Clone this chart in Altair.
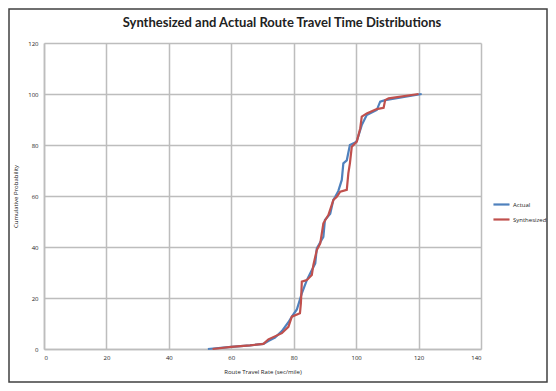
import altair as alt
import pandas as pd

actual_x = [52.5, 60, 66, 70.3, 72, 74, 76.2, 78.3, 79.4, 81, 82.6, 84.2, 85.3, 86.9, 87.4,
            89.5, 90, 91.7, 92.7, 93.3, 94.3, 95.4, 95.9, 97, 98, 99.7, 100.2, 101.8, 103.4,
            106.6, 107.7, 109.3, 121]
actual_y = [0, 0.8, 1.4, 2, 3.2, 4.5, 7, 10.5, 12.7, 15.5, 21.8, 27, 29.7, 33.6, 39.5,
            44, 50.6, 53, 58.5, 59.7, 62, 66.3, 72.8, 74, 80, 81, 81.5, 87.8, 91.8,
            93.7, 97, 97.6, 100]

synth_x = [54, 60, 66, 70.3, 71.9, 76.2, 78.3, 79.4, 82, 82.3, 82.6, 84.2, 85.8, 86.3, 87.4,
           88.5, 89.5, 91.1, 92.7, 93.8, 94.9, 97, 97.5, 98, 98.6, 99.7, 100.2, 101.3, 101.8,
           103.4, 106.6, 108.8, 109.3, 110.4, 120]
synth_y = [0, 0.8, 1.4, 2, 3.8, 6.2, 8.7, 12.7, 14, 18, 26.4, 27, 29, 33, 38.8,
           41.4, 49.3, 52.5, 58.4, 59.7, 61.7, 62.4, 68.9, 72.8, 79.3, 80.7, 81.3, 86.5, 91.1,
           92.4, 94.1, 94.6, 97.6, 98.3, 100]

series_names = ["Actual", "Synthesized"]
series_colors = ["#4F81BD", "#C0504D"]
title_text = "Synthesized and Actual Route Travel Time Distributions"

rows = []
for i, (x, y) in enumerate(zip(actual_x, actual_y)):
    rows.append({"series": "Actual", "x": x, "y": y, "i": i})
for i, (x, y) in enumerate(zip(synth_x, synth_y)):
    rows.append({"series": "Synthesized", "x": x, "y": y, "i": i})
df = pd.DataFrame(rows)

FONT = "Open Sans"
W, H = 437, 306

frame = alt.Chart(pd.DataFrame({"a": [0]})).mark_rect(
    fill=None, stroke="#404040", strokeWidth=1.5, clip=False
).encode(
    x=alt.value(-35), x2=alt.value(W + 66), y=alt.value(-34), y2=alt.value(H + 33)
)

title = alt.Chart(pd.DataFrame({"t": [title_text]})).mark_text(
    font="Lato", fontSize=13, fontWeight="bold", color="#222",
    align="center", baseline="middle", clip=False
).encode(text="t:N", x=alt.value(238), y=alt.value(-20))

lines = alt.Chart(df).mark_line(strokeWidth=2.2, interpolate="linear").encode(
    x=alt.X("x:Q", scale=alt.Scale(domain=[0, 140], nice=False),
            axis=alt.Axis(values=[0, 20, 40, 60, 80, 100, 120, 140],
                          title="Route Travel Rate (sec/mile)")),
    y=alt.Y("y:Q", scale=alt.Scale(domain=[0, 120], nice=False),
            axis=alt.Axis(values=[0, 20, 40, 60, 80, 100, 120],
                          title="Cumulative Probability")),
    color=alt.Color("series:N",
                    scale=alt.Scale(domain=series_names, range=series_colors),
                    legend=alt.Legend(title=None, orient="none", legendX=448, legendY=152,
                                      symbolType="stroke", symbolSize=260, labelOffset=2,
                                      symbolStrokeWidth=2.2, labelFont=FONT, labelFontSize=6,
                                      labelColor="#222", rowPadding=1)),
    order="i:Q",
)

chart = alt.layer(frame, title, lines).properties(
    width=W, height=H,
    autosize=alt.AutoSizeParams(type="none"),
    padding={"left": 36, "top": 35, "right": 67, "bottom": 34},
).configure_view(stroke=None).configure_axis(
    grid=True, gridColor="#bdbdbd", gridWidth=1.5,
    domainColor="#bdbdbd", domainWidth=1.5,
    ticks=False, labelFont=FONT, labelFontSize=6, labelColor="#222",
    titleFont=FONT, titleFontSize=6, titleFontWeight="normal", titleColor="#222",
).configure_axisY(labelPadding=6, titlePadding=9).configure_axisX(labelPadding=5, titlePadding=8)

chart.save("out.html", embed_options={"renderer": "svg", "actions": False})
